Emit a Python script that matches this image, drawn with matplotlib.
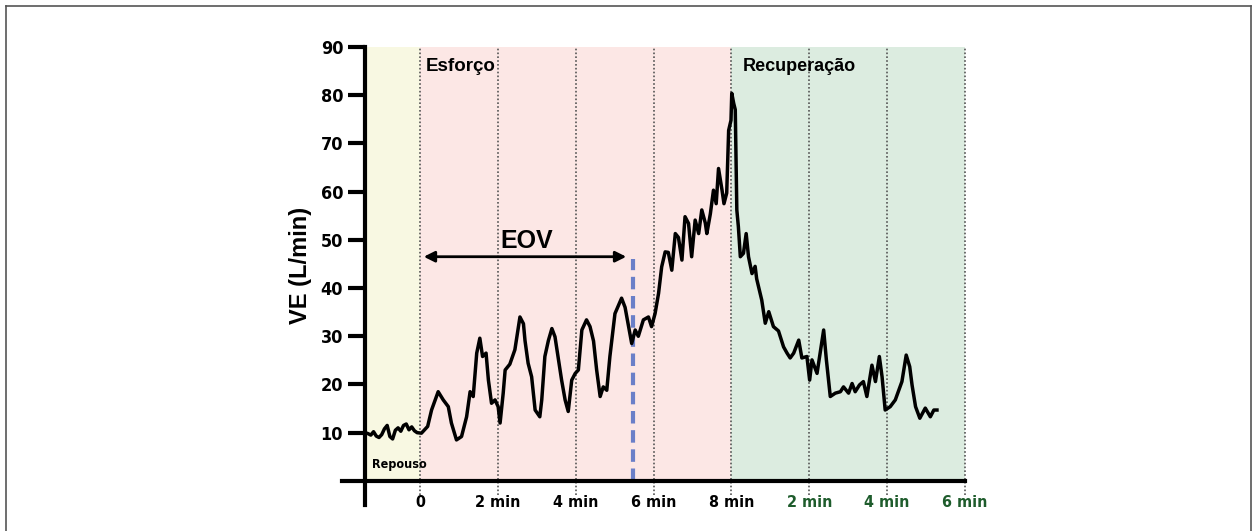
import matplotlib.pyplot as plt
from matplotlib.lines import Line2D
import numpy as np

# --- data (minutes from start of exercise, VE in L/min) ---
rest_t = [-1.40, -1.33, -1.26, -1.19, -1.12, -1.05, -0.98, -0.91, -0.84, -0.77,
          -0.70, -0.63, -0.56, -0.49, -0.42, -0.35, -0.28, -0.21, -0.14, -0.07]
rest_ve = [10.0, 9.8, 9.5, 10.2, 9.3, 9.0, 9.6, 10.8, 11.5, 9.2,
           8.7, 10.5, 11.0, 10.3, 11.5, 11.8, 10.6, 11.2, 10.4, 10.0]

ex_t = [0.04, 0.20, 0.30, 0.47, 0.60, 0.73, 0.81, 0.94, 1.07, 1.20, 1.29, 1.37,
        1.46, 1.54, 1.61, 1.70, 1.76, 1.84, 1.93, 2.01, 2.06, 2.14, 2.19, 2.31,
        2.44, 2.57, 2.66, 2.70, 2.78, 2.87, 2.96, 3.08, 3.13, 3.21, 3.30, 3.39,
        3.47, 3.56, 3.64, 3.73, 3.81, 3.90, 3.99, 4.07, 4.16, 4.28, 4.37, 4.46,
        4.54, 4.63, 4.71, 4.80, 4.88, 5.01, 5.18, 5.27, 5.36, 5.44, 5.53, 5.61,
        5.74, 5.87, 5.95, 6.04, 6.13, 6.21, 6.30, 6.38, 6.47, 6.56, 6.64, 6.73,
        6.81, 6.90, 6.98, 7.07, 7.16, 7.24, 7.33, 7.37, 7.46, 7.54, 7.61, 7.67,
        7.76, 7.81, 7.88, 7.93, 7.99, 8.01]
ex_ve = [9.9, 11.3, 14.7, 18.5, 16.8, 15.4, 12.0, 8.5, 9.2, 13.3, 18.5, 17.5,
         26.5, 29.6, 25.8, 26.5, 20.9, 16.1, 16.8, 15.4, 12.0, 18.2, 23.0, 24.2,
         27.2, 34.0, 32.6, 29.1, 24.4, 21.6, 14.7, 13.3, 16.8, 25.8, 29.1, 31.6,
         29.9, 25.1, 20.9, 16.8, 14.4, 20.9, 22.3, 23.0, 31.3, 33.4, 32.0, 29.0,
         23.0, 17.5, 19.5, 18.8, 25.8, 34.7, 37.9, 36.0, 32.0, 28.5, 31.3, 30.0,
         33.4, 34.0, 32.0, 34.7, 38.9, 44.4, 47.5, 47.4, 43.7, 51.3, 50.5, 45.8,
         54.8, 53.4, 46.5, 54.1, 51.3, 56.2, 53.5, 51.3, 55.4, 60.3, 57.5, 64.8,
         60.3, 57.5, 59.7, 72.7, 74.8, 80.4]

rec_t = [8.06, 8.10, 8.14, 8.18, 8.23, 8.31, 8.38, 8.44, 8.53, 8.61, 8.65, 8.78,
         8.87, 8.96, 9.08, 9.21, 9.34, 9.43, 9.51, 9.60, 9.73, 9.81, 9.94, 10.01,
         10.07, 10.20, 10.28, 10.37, 10.44, 10.54, 10.67, 10.80, 10.88, 11.01,
         11.10, 11.18, 11.29, 11.39, 11.48, 11.61, 11.70, 11.80, 11.87, 11.95,
         12.08, 12.21, 12.30, 12.38, 12.49, 12.58, 12.64, 12.73, 12.84, 12.98,
         13.11, 13.20, 13.28]
rec_ve = [78.3, 77.0, 56.2, 52.7, 46.5, 47.2, 51.3, 46.5, 43.0, 44.5, 41.9, 37.5,
          32.7, 35.1, 32.0, 31.1, 27.8, 26.5, 25.5, 26.5, 29.2, 25.5, 25.8, 20.9,
          25.1, 22.3, 26.5, 31.3, 25.1, 17.5, 18.2, 18.5, 19.5, 18.2, 20.2, 18.5,
          19.9, 20.6, 17.5, 24.0, 20.6, 25.8, 21.6, 14.7, 15.4, 16.8, 18.8, 20.6,
          26.1, 23.7, 19.9, 15.4, 13.0, 15.1, 13.3, 14.7, 14.7]

grid_t = [0, 2, 4, 6, 8, 10, 12, 14]
tick_labels = ['0', '2 min', '4 min', '6 min', '8 min', '2 min', '4 min', '6 min']
tick_colors = ['black'] * 5 + ['#1e5c2c'] * 3
y_ticks = [10, 20, 30, 40, 50, 60, 70, 80, 90]
eov_t = 5.48
eov_top = 46

t = np.array(rest_t + ex_t + rec_t)
ve = np.array(rest_ve + ex_ve + rec_ve)

plt.rcParams['font.family'] = ['Liberation Sans', 'DejaVu Sans']

fig = plt.figure(figsize=(12.57, 5.31), dpi=100)
ax = fig.add_axes([342 / 1257, 26 / 531, 623 / 1257, 458 / 531])
ax.set_xlim(-2, 14)
ax.set_ylim(-5, 90)

# phase backgrounds
ax.fill_between([-1.4, 0], 0, 90, color='#f8f8e2', lw=0, zorder=0)
ax.fill_between([0, 8], 0, 90, color='#fce7e5', lw=0, zorder=0)
ax.fill_between([8, 14], 0, 90, color='#dcece0', lw=0, zorder=0)

for g in grid_t:
    ax.plot([g, g], [-3, 90], color='#555555', ls=(0, (1, 1.3)), lw=1.2,
            zorder=1, clip_on=False)

ax.plot(t, ve, color='black', lw=2.5, zorder=4, solid_joinstyle='round')

# EOV marker
ax.plot([eov_t, eov_t], [0, eov_top], color='#6a7fc8', lw=3, ls=(0, (3, 1.6)),
        zorder=3)
ax.annotate('', xy=(5.3, 46.5), xytext=(0.1, 46.5),
            arrowprops=dict(arrowstyle='<|-|>', color='black', lw=2,
                            mutation_scale=16, shrinkA=0, shrinkB=0))
ax.text(2.75, 49.8, 'EOV', fontsize=18, fontweight='bold', ha='center',
        va='center')

ax.text(0.15, 86, 'Esforço', fontsize=13.5, fontweight='bold', va='center')
ax.text(8.3, 86, 'Recuperação', fontsize=13, fontweight='bold', va='center')
ax.text(-1.22, 3.3, 'Repouso', fontsize=9, fontweight='bold', va='center',
        family='DejaVu Sans', fontstretch='condensed')

# axes
for s in ['top', 'right']:
    ax.spines[s].set_visible(False)
ax.spines['left'].set_position(('data', -1.4))
ax.spines['left'].set_linewidth(3)
ax.spines['bottom'].set_position(('data', 0))
ax.spines['bottom'].set_linewidth(3)
ax.spines['bottom'].set_zorder(5)

ax.set_yticks(y_ticks)
ax.set_yticklabels([str(v) for v in y_ticks], fontweight='bold', fontsize=13,
                   family='DejaVu Sans', fontstretch='condensed')
ax.tick_params(axis='y', length=12, width=3, pad=4)

ax.set_xticks(grid_t)
ax.set_xticklabels(tick_labels, fontweight='bold', fontsize=11.5,
                   family='DejaVu Sans', fontstretch='condensed')
ax.tick_params(axis='x', length=0, pad=10)
for lbl, c in zip(ax.get_xticklabels(), tick_colors):
    lbl.set_color(c)

fig.text(300 / 1257, 1 - 265 / 531, 'VE (L/min)', rotation=90, fontsize=17,
         fontweight='bold', ha='center', va='center')

# outer frame
for xs, ys in [([6, 1251], [6, 6]), ([6, 6], [6, 531]), ([1251, 1251], [6, 531])]:
    fig.add_artist(Line2D([x / 1257 for x in xs], [1 - y / 531 for y in ys],
                          color='#555555', lw=1.2))

fig.savefig('out.png', dpi=100)
